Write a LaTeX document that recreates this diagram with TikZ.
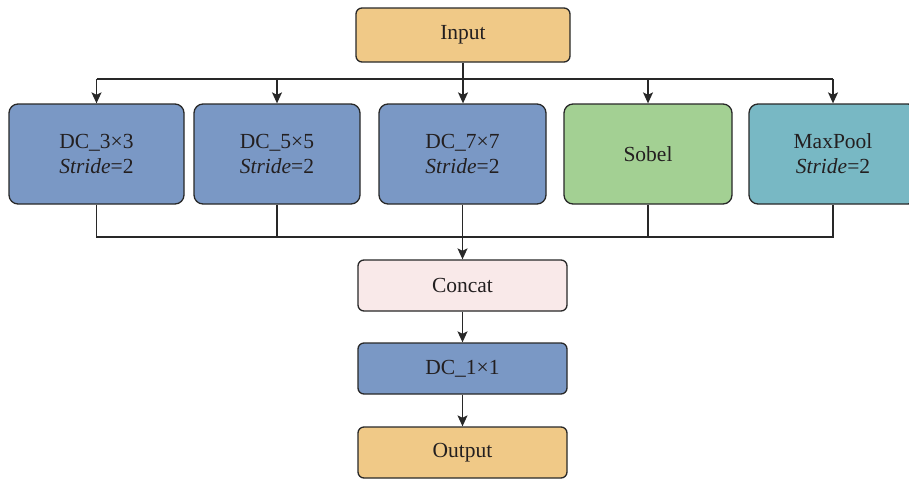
\documentclass[tikz,border=0pt]{standalone}
\usepackage{fontspec}
\setmainfont{Liberation Serif}
\usetikzlibrary{arrows.meta}
\definecolor{cOrange}{RGB}{240,201,135}
\definecolor{cBlue}{RGB}{122,152,197}
\definecolor{cGreen}{RGB}{163,208,147}
\definecolor{cTeal}{RGB}{120,184,196}
\definecolor{cPink}{RGB}{249,233,233}
\definecolor{cLine}{RGB}{40,40,40}
\definecolor{cText}{RGB}{35,31,32}
\begin{document}
\begin{tikzpicture}[x=1pt,y=-1pt,
  font=\fontsize{21.5}{25}\selectfont,
  box/.style={draw=cLine,line width=1.3pt,rounded corners=9pt,inner sep=0pt,
    text=cText,align=center,minimum width=#1},
  bigbox/.style={box=168pt,minimum height=100pt},
  smallbox/.style={box=209pt,minimum height=51pt,rounded corners=6pt},
  conn/.style={draw=cLine,line width=1.3pt},
  arr/.style={conn,-{Stealth[length=11pt,width=10pt,inset=2.5pt]}}]
\useasboundingbox (0,0) rectangle (909,480);
\node[smallbox,fill=cOrange,minimum width=214pt,minimum height=54pt] (in) at (463,35) {Input};
\node[bigbox,fill=cBlue,minimum width=175pt] (b1) at (96.5,154) {DC\_3×3\\\textit{Stride}=2};
\node[bigbox,fill=cBlue,minimum width=166pt] (b2) at (277,154) {DC\_5×5\\\textit{Stride}=2};
\node[bigbox,fill=cBlue,minimum width=167pt] (b3) at (462.5,154) {DC\_7×7\\\textit{Stride}=2};
\node[bigbox,fill=cGreen] (b4) at (648,154) {Sobel};
\node[bigbox,fill=cTeal] (b5) at (833,154) {MaxPool\\\textit{Stride}=2};
\node[smallbox,fill=cPink] (cc) at (462.5,285.5) {Concat};
\node[smallbox,fill=cBlue] (dc) at (462.5,368.5) {DC\_1×1};
\node[smallbox,fill=cOrange] (out) at (462.5,452.5) {Output};
\coordinate (tbus) at (0,79);
\coordinate (bbus) at (0,237);
% top distribution
\draw[conn] (b1.north |- tbus) -- (b5.north |- tbus);
\draw[arr] (in.south) -- (in.south |- b3.north);
\foreach \b in {b1,b2,b4,b5}{\draw[arr] (\b.north |- tbus) -- (\b.north);}
% bottom collection
\draw[conn] (b1.south) -- (b1.south |- bbus) -- (b5.south |- bbus) -- (b5.south);
\foreach \b in {b2,b3,b4}{\draw[conn] (\b.south) -- (\b.south |- bbus);}
\draw[arr] (cc.north |- bbus) -- (cc.north);
\draw[arr] (cc.south) -- (dc.north);
\draw[arr] (dc.south) -- (out.north);
\end{tikzpicture}
\end{document}
